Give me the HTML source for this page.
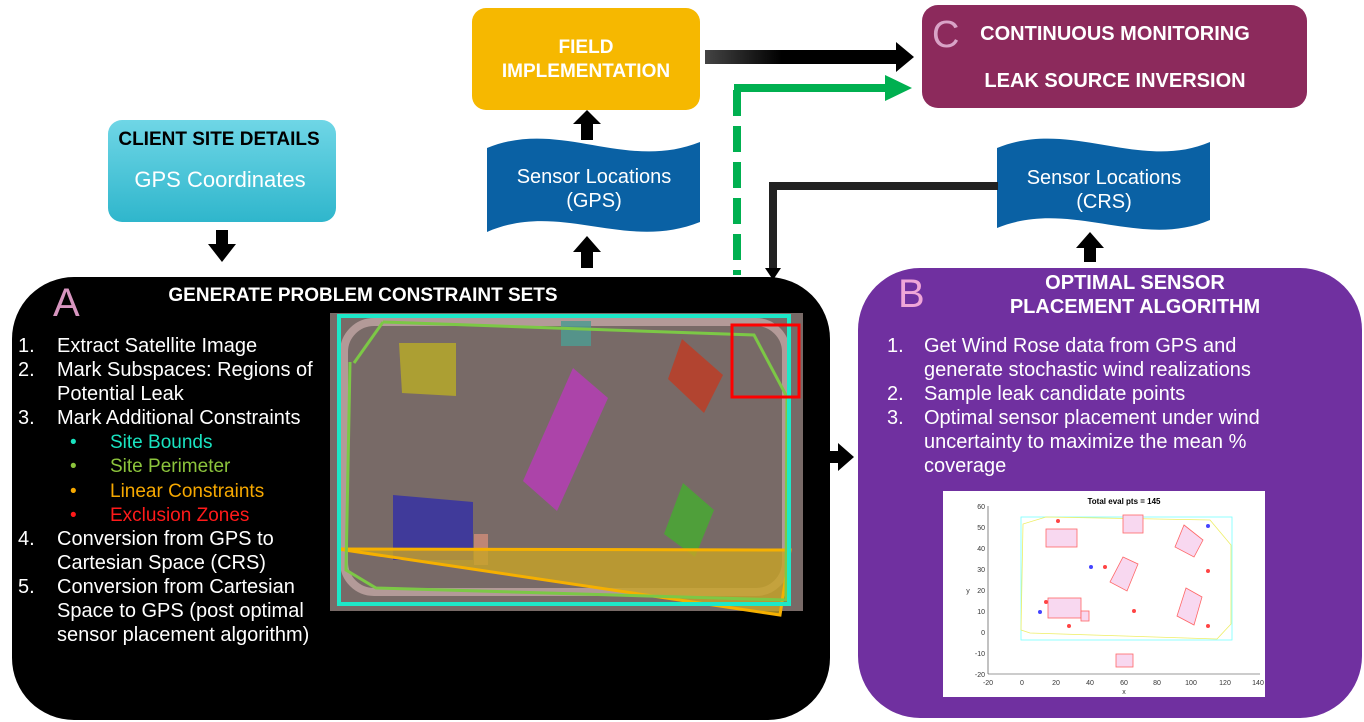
<!DOCTYPE html>
<html><head><meta charset="utf-8"><style>
html,body{margin:0;padding:0;background:#fff;}
svg{display:block;}
text{font-family:"Liberation Sans",Arial,sans-serif;}
</style></head><body>
<svg width="1364" height="722" viewBox="0 0 1364 722" xmlns="http://www.w3.org/2000/svg">
<defs>
<linearGradient id="cy" x1="0" y1="0" x2="0" y2="1"><stop offset="0" stop-color="#6fd6e6"/><stop offset="1" stop-color="#2fb6cc"/></linearGradient>
<linearGradient id="ar" x1="0" y1="0" x2="1" y2="0"><stop offset="0" stop-color="#444"/><stop offset="0.4" stop-color="#000"/></linearGradient>
</defs>

<!-- Client site details -->
<rect x="108" y="120" width="228" height="102" rx="14" fill="url(#cy)"/>
<text x="219" y="145" text-anchor="middle" font-size="19" font-weight="bold" fill="#000">CLIENT SITE DETAILS</text>
<text x="220" y="187" text-anchor="middle" font-size="22" fill="#fff">GPS Coordinates</text>
<path d="M216,230 h12 v14 h8 l-14,18 l-14,-18 h8 z" fill="#000"/>

<!-- Field implementation -->
<rect x="472" y="8" width="228" height="102" rx="14" fill="#f6b800"/>
<text x="586" y="53" text-anchor="middle" font-size="19" font-weight="bold" fill="#fff">FIELD</text>
<text x="586" y="77" text-anchor="middle" font-size="19" font-weight="bold" fill="#fff">IMPLEMENTATION</text>
<path d="M581,140 h12 v-16 h8 l-14,-14 l-14,14 h8 z" fill="#000"/>
<path d="M487,148 C560,118 625,172 700,142 L700,222 C625,252 560,200 487,232 Z" fill="#0a61a4"/>
<text x="594" y="183" text-anchor="middle" font-size="20" fill="#fff">Sensor Locations</text>
<text x="594" y="207" text-anchor="middle" font-size="20" fill="#fff">(GPS)</text>
<path d="M581,268 h12 v-16 h8 l-14,-16 l-14,16 h8 z" fill="#000"/>

<!-- Arrows to C -->
<rect x="705" y="50" width="192" height="14" fill="url(#ar)"/>
<path d="M896,42 l18,15 l-18,15 z" fill="#000"/>
<rect x="734" y="84" width="162" height="8" fill="#00b050"/>
<path d="M885,75 l27,13 l-27,13 z" fill="#00b050"/>
<line x1="737" y1="90" x2="737" y2="275" stroke="#00b050" stroke-width="8" stroke-dasharray="26,10"/>

<!-- C box -->
<rect x="922" y="5" width="385" height="103" rx="16" fill="#8c2a5c"/>
<text x="932" y="47" font-size="38" fill="#d9a3c7">C</text>
<text x="1115" y="40" text-anchor="middle" font-size="20" font-weight="bold" fill="#fff">CONTINUOUS MONITORING</text>
<text x="1115" y="87" text-anchor="middle" font-size="20" font-weight="bold" fill="#fff">LEAK SOURCE INVERSION</text>

<!-- Sensor CRS -->
<path d="M997,148 C1070,118 1140,172 1210,142 L1210,220 C1140,250 1070,198 997,228 Z" fill="#0a61a4"/>
<text x="1104" y="184" text-anchor="middle" font-size="20" fill="#fff">Sensor Locations</text>
<text x="1104" y="208" text-anchor="middle" font-size="20" fill="#fff">(CRS)</text>
<path d="M1084,262 h12 v-14 h8 l-14,-16 l-14,16 h8 z" fill="#000"/>
<path d="M998,186 H773 V272" fill="none" stroke="#222" stroke-width="8"/>
<path d="M765,268 l8,12 l8,-12 z" fill="#000"/>

<!-- A box -->
<rect x="12" y="277" width="818" height="443" rx="62" fill="#000"/>
<text x="53" y="316" font-size="40" fill="#d795bf">A</text>
<text x="363" y="301" text-anchor="middle" font-size="19" font-weight="bold" fill="#fff">GENERATE PROBLEM CONSTRAINT SETS</text>
<g font-size="20" fill="#fff">
<text x="18" y="352">1.</text><text x="57" y="352">Extract Satellite Image</text>
<text x="18" y="376">2.</text><text x="57" y="376">Mark Subspaces: Regions of</text>
<text x="57" y="400">Potential Leak</text>
<text x="18" y="424">3.</text><text x="57" y="424">Mark Additional Constraints</text>
<text x="18" y="545">4.</text><text x="57" y="545">Conversion from GPS to</text>
<text x="57" y="569">Cartesian Space (CRS)</text>
<text x="18" y="593">5.</text><text x="57" y="593">Conversion from Cartesian</text>
<text x="57" y="617">Space to GPS (post optimal</text>
<text x="57" y="641">sensor placement algorithm)</text>
</g>
<g font-size="19">
<text x="70" y="448" fill="#19e3c0">•</text><text x="110" y="448" fill="#19e3c0">Site Bounds</text>
<text x="70" y="472" fill="#8cc43c">•</text><text x="110" y="472" fill="#8cc43c">Site Perimeter</text>
<text x="70" y="497" fill="#f6a800">•</text><text x="110" y="497" fill="#f6a800">Linear Constraints</text>
<text x="70" y="521" fill="#ff1a1a">•</text><text x="110" y="521" fill="#ff1a1a">Exclusion Zones</text>
</g>

<!-- satellite image -->
<rect x="330" y="313" width="473" height="298" fill="#786a67"/>
<rect x="344" y="322" width="442" height="270" rx="30" fill="none" stroke="#b39a98" stroke-width="8"/>
<polygon points="399,343 456,343 456,396 402,393" fill="#b5a82a" opacity="0.85"/>
<polygon points="561,321 591,321 591,346 561,346" fill="#4f9a90" opacity="0.85"/>
<polygon points="573,368 608,398 557,511 523,481" fill="#b140b0" opacity="0.9"/>
<polygon points="682,339 723,375 704,413 668,379" fill="#b8402a" opacity="0.9"/>
<polygon points="393,495 473,502 473,560 393,560" fill="#3a35a0" opacity="0.9"/>
<polygon points="474,534 488,534 488,565 474,565" fill="#c68a78" opacity="0.9"/>
<polygon points="683,483 714,510 695,557 664,534" fill="#4aa535" opacity="0.9"/>
<polygon points="338,549 790,550 780,615" fill="#c8a427" opacity="0.8"/>
<polygon points="338,549 790,550 780,615" fill="none" stroke="#f6b000" stroke-width="3"/>
<polyline points="383,322 754,335 787,397 786,600 376,588 346,570 350,362" fill="none" stroke="#7cc846" stroke-width="3"/>
<polyline points="383,322 354,363" fill="none" stroke="#7cc846" stroke-width="3"/>
<rect x="339" y="316" width="450" height="288" fill="none" stroke="#1de8c8" stroke-width="4"/>
<rect x="732" y="325" width="67" height="72" fill="none" stroke="#ff0000" stroke-width="3"/>

<!-- arrow A->B -->
<path d="M820,451 h18 v-8 l16,14 l-16,14 v-8 h-18 z" fill="#000"/>

<!-- B box -->
<rect x="858" y="268" width="504" height="450" rx="62" fill="#7030a0"/>
<text x="898" y="307" font-size="40" fill="#f0a6d8">B</text>
<text x="1135" y="289" text-anchor="middle" font-size="20" font-weight="bold" fill="#fff">OPTIMAL SENSOR</text>
<text x="1135" y="313" text-anchor="middle" font-size="20" font-weight="bold" fill="#fff">PLACEMENT ALGORITHM</text>
<g font-size="20" fill="#fff">
<text x="887" y="352">1.</text><text x="924" y="352">Get Wind Rose data from GPS and</text>
<text x="924" y="376">generate stochastic wind realizations</text>
<text x="887" y="400">2.</text><text x="924" y="400">Sample leak candidate points</text>
<text x="887" y="424">3.</text><text x="924" y="424">Optimal sensor placement under wind</text>
<text x="924" y="448">uncertainty to maximize the mean %</text>
<text x="924" y="472">coverage</text>
</g>

<!-- chart -->
<rect x="943" y="491" width="322" height="206" fill="#fff"/>
<text x="1124" y="504" text-anchor="middle" font-size="8" font-weight="bold" fill="#000">Total eval pts = 145</text>
<g stroke="#333" stroke-width="0.6" fill="none">
<line x1="988" y1="506" x2="988" y2="674"/><line x1="988" y1="674" x2="1260" y2="674"/>
</g>
<g font-size="7" fill="#333" text-anchor="end">
<text x="985" y="509">60</text><text x="985" y="530">50</text><text x="985" y="551">40</text><text x="985" y="572">30</text><text x="985" y="593">20</text><text x="985" y="614">10</text><text x="985" y="635">0</text><text x="985" y="656">-10</text><text x="985" y="677">-20</text>
</g>
<g font-size="7" fill="#333" text-anchor="middle">
<text x="988" y="685">-20</text><text x="1022" y="685">0</text><text x="1056" y="685">20</text><text x="1090" y="685">40</text><text x="1124" y="685">60</text><text x="1157" y="685">80</text><text x="1191" y="685">100</text><text x="1225" y="685">120</text><text x="1258" y="685">140</text>
<text x="1124" y="694">x</text><text x="968" y="593">y</text>
</g>
<rect x="1021" y="517" width="211" height="123" fill="none" stroke="#7ff" stroke-width="0.8"/>
<polyline points="1021,630 1023,524 1046,517 1210,520 1231,545 1231,624 1217,639 1030,633 1021,630" fill="none" stroke="#ee6" stroke-width="0.8"/>
<g fill="#f8d8f0" stroke="#f66" stroke-width="0.8">
<rect x="1046" y="529" width="31" height="18"/>
<rect x="1123" y="515" width="20" height="18"/>
<rect x="1048" y="598" width="33" height="20"/>
<rect x="1081" y="611" width="8" height="10"/>
<rect x="1116" y="654" width="17" height="13"/>
<polygon points="1123,557 1138,564 1127,591 1110,582"/>
<polygon points="1184,525 1203,540 1194,557 1175,547"/>
<polygon points="1186,588 1202,597 1194,625 1177,616"/>
</g>
<g fill="#f44"><circle cx="1058" cy="521" r="2"/><circle cx="1046" cy="602" r="2"/><circle cx="1105" cy="567" r="2"/><circle cx="1208" cy="571" r="2"/><circle cx="1134" cy="611" r="2"/><circle cx="1069" cy="626" r="2"/><circle cx="1208" cy="626" r="2"/></g>
<g fill="#44f"><circle cx="1091" cy="567" r="2"/><circle cx="1040" cy="612" r="2"/><circle cx="1208" cy="526" r="2"/></g>
</svg>
</body></html>
